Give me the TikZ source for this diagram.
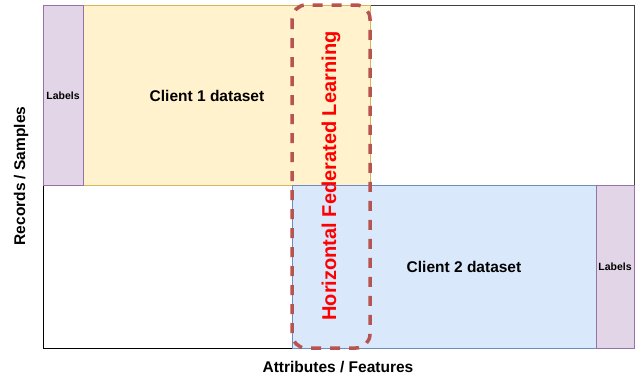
\documentclass[tikz,border=0pt]{standalone}
\usepackage{fontspec}
\setmainfont{Liberation Sans}
\begin{document}
\begin{tikzpicture}[x=1pt,y=-1pt,
  lbl/.style={fill=purpleF,draw=purpleD,line width=0.8pt},
  cone/.style={fill=yellowF,draw=yellowD,line width=0.8pt},
  ctwo/.style={fill=blueF,draw=blueD,line width=0.8pt},
  txt/.style={font=\bfseries\fontsize{15.5}{18}\selectfont},
  smalltxt/.style={font=\bfseries\fontsize{10.5}{12}\selectfont}]
\definecolor{purpleF}{HTML}{E1D5E7}\definecolor{purpleD}{HTML}{9673A6}
\definecolor{yellowF}{HTML}{FFF2CC}\definecolor{yellowD}{HTML}{D6B656}
\definecolor{blueF}{HTML}{DAE8FC}\definecolor{blueD}{HTML}{6C8EBF}
\definecolor{redD}{HTML}{B85450}
\useasboundingbox (0,0) rectangle (642,381);
\fill[white] (0,0) rectangle (642,381);
% frames
\draw[black!75,line width=0.8pt] (370,5) rectangle (634,185);
\draw[black,line width=0.8pt] (43,185) rectangle (292,348);
% datasets
\draw[cone] (83,5) rectangle (370,185);
\draw[ctwo] (292,185) rectangle (596,348);
\draw[lbl] (43,5) rectangle (83,185);
\draw[lbl] (596,185) rectangle (634,348);
\node[smalltxt] (l1) at (63,96) {Labels};
\node[smalltxt] (l2) at (615,267) {Labels};
\node[txt] (c1) at (207,96) {Client 1 dataset};
\node[txt] (c2) at (464,267) {Client 2 dataset};
% HFL
\draw[redD,line width=3.5pt,dash pattern=on 10pt off 9pt,rounded corners=14pt] (292,5) rectangle (370,348);
\node[font=\bfseries\fontsize{20}{24}\selectfont,text=red,rotate=90] (hfl) at (331,176) {Horizontal Federated Learning};
% axes labels
\node[txt,rotate=90] (rs) at (21,176) {Records / Samples};
\node[txt] (af) at (338,367) {Attributes / Features};
\end{tikzpicture}
\end{document}
